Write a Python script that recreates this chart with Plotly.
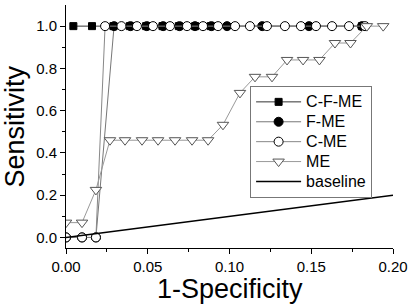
import plotly.graph_objects as go

# C-F-ME (black squares)
cfme_x = [0.0045, 0.0159, 0.0290, 0.0390, 0.0490, 0.0590, 0.0690, 0.0790, 0.0885, 0.181]
cfme_y = [1.0] * len(cfme_x)

# F-ME (black circles)
fme_x = [0.0, 0.0098, 0.0183, 0.0294, 0.0394, 0.0494, 0.0594, 0.0694, 0.0789, 0.0889,
         0.0985, 0.120, 0.1486, 0.181]
fme_y = [0.0, 0.0, 0.0] + [1.0] * 11

# C-ME (white circles)
cme_x = [0.0, 0.0098, 0.0183, 0.0239, 0.0339, 0.0434, 0.0532, 0.0636, 0.0740, 0.0838,
         0.0930, 0.1034, 0.1125, 0.1229, 0.1339, 0.1437, 0.1529, 0.1627, 0.1731, 0.1829]
cme_y = [0.0, 0.0, 0.0] + [1.0] * 17

# ME (white down-triangles)
me_x = [0.0, 0.0098, 0.0183, 0.0269, 0.0361, 0.0465, 0.0563, 0.0667, 0.0771, 0.0869,
        0.0960, 0.1064, 0.1156, 0.1260, 0.1352, 0.1450, 0.1550, 0.1645, 0.1740, 0.1840, 0.1940]
me_y = [0.07, 0.07, 0.225, 0.46, 0.46, 0.46, 0.46, 0.46, 0.46, 0.46,
        0.533, 0.684, 0.76, 0.76, 0.84, 0.84, 0.84, 0.92, 0.92, 1.0, 1.0]

# baseline
base_x = [0.0, 0.2]
base_y = [0.0, 0.2]

series_names = ["C-F-ME", "F-ME", "C-ME", "ME", "baseline"]
x_title = "1-Specificity"
y_title = "Sensitivity"

FONT = "Arial, Liberation Sans, sans-serif"


def lname(s):
    return '<span style="font-size:16px">%s</span>' % s


fig = go.Figure()
fig.add_trace(go.Scatter(x=cfme_x, y=cfme_y, mode="lines+markers", name=lname(series_names[0]),
                         line=dict(color="#333333", width=1),
                         marker=dict(symbol="square", size=7, color="black",
                                     line=dict(color="black", width=1))))
fig.add_trace(go.Scatter(x=fme_x, y=fme_y, mode="lines+markers", name=lname(series_names[1]),
                         line=dict(color="#777777", width=1),
                         marker=dict(symbol="circle", size=9, color="black",
                                     line=dict(color="black", width=1))))
fig.add_trace(go.Scatter(x=cme_x, y=cme_y, mode="lines+markers", name=lname(series_names[2]),
                         line=dict(color="#888888", width=1),
                         marker=dict(symbol="circle", size=9, color="white",
                                     line=dict(color="black", width=1))))
fig.add_trace(go.Scatter(x=me_x, y=me_y, mode="lines+markers", name=lname(series_names[3]),
                         line=dict(color="#999999", width=1),
                         marker=dict(symbol="triangle-down", size=10, color="white",
                                     line=dict(color="#555555", width=1))))
fig.add_trace(go.Scatter(x=base_x, y=base_y, mode="lines", name=lname(series_names[4]),
                         line=dict(color="black", width=1.5)))

fig.update_layout(
    width=412, height=305,
    margin=dict(l=66, r=19, t=5, b=57, autoexpand=False),
    paper_bgcolor="white", plot_bgcolor="white",
    font=dict(family=FONT, color="black"),
    showlegend=True,
    legend=dict(x=0.563, y=0.667, xanchor="left", yanchor="top",
                bordercolor="#777777", borderwidth=1, bgcolor="white",
                itemwidth=45,
                font=dict(size=13, family=FONT)),
    xaxis=dict(range=[0, 0.2], dtick=0.05, tickformat=".2f", automargin=False,
               showgrid=False, zeroline=False, showline=True,
               linecolor="black", linewidth=1, ticks="outside", ticklen=5,
               tickcolor="black", tickfont=dict(size=15),
               minor=dict(dtick=0.025, ticks="outside", ticklen=3, tickcolor="black")),
    yaxis=dict(range=[-0.05, 1.1], tickvals=[0, 0.2, 0.4, 0.6, 0.8, 1.0],
               tickformat=".1f", automargin=False,
               showgrid=False, zeroline=False, showline=True,
               linecolor="black", linewidth=1, ticks="outside", ticklen=5,
               tickcolor="black", tickfont=dict(size=15),
               minor=dict(tickvals=[0.1, 0.3, 0.5, 0.7, 0.9], ticks="outside",
                          ticklen=3, tickcolor="black")),
    annotations=[
        dict(text=x_title, xref="paper", yref="paper", x=0.5, y=0,
             xanchor="center", yanchor="middle", yshift=-41, showarrow=False,
             font=dict(size=27, family=FONT)),
        dict(text=y_title, xref="paper", yref="paper", x=0, y=0.5,
             xanchor="center", yanchor="middle", xshift=-52, textangle=-90,
             showarrow=False, font=dict(size=27, family=FONT)),
    ],
)

fig.write_html("out.html", config={"displayModeBar": False},
               post_script="document.body.style.margin='0';document.body.style.padding='0';")
